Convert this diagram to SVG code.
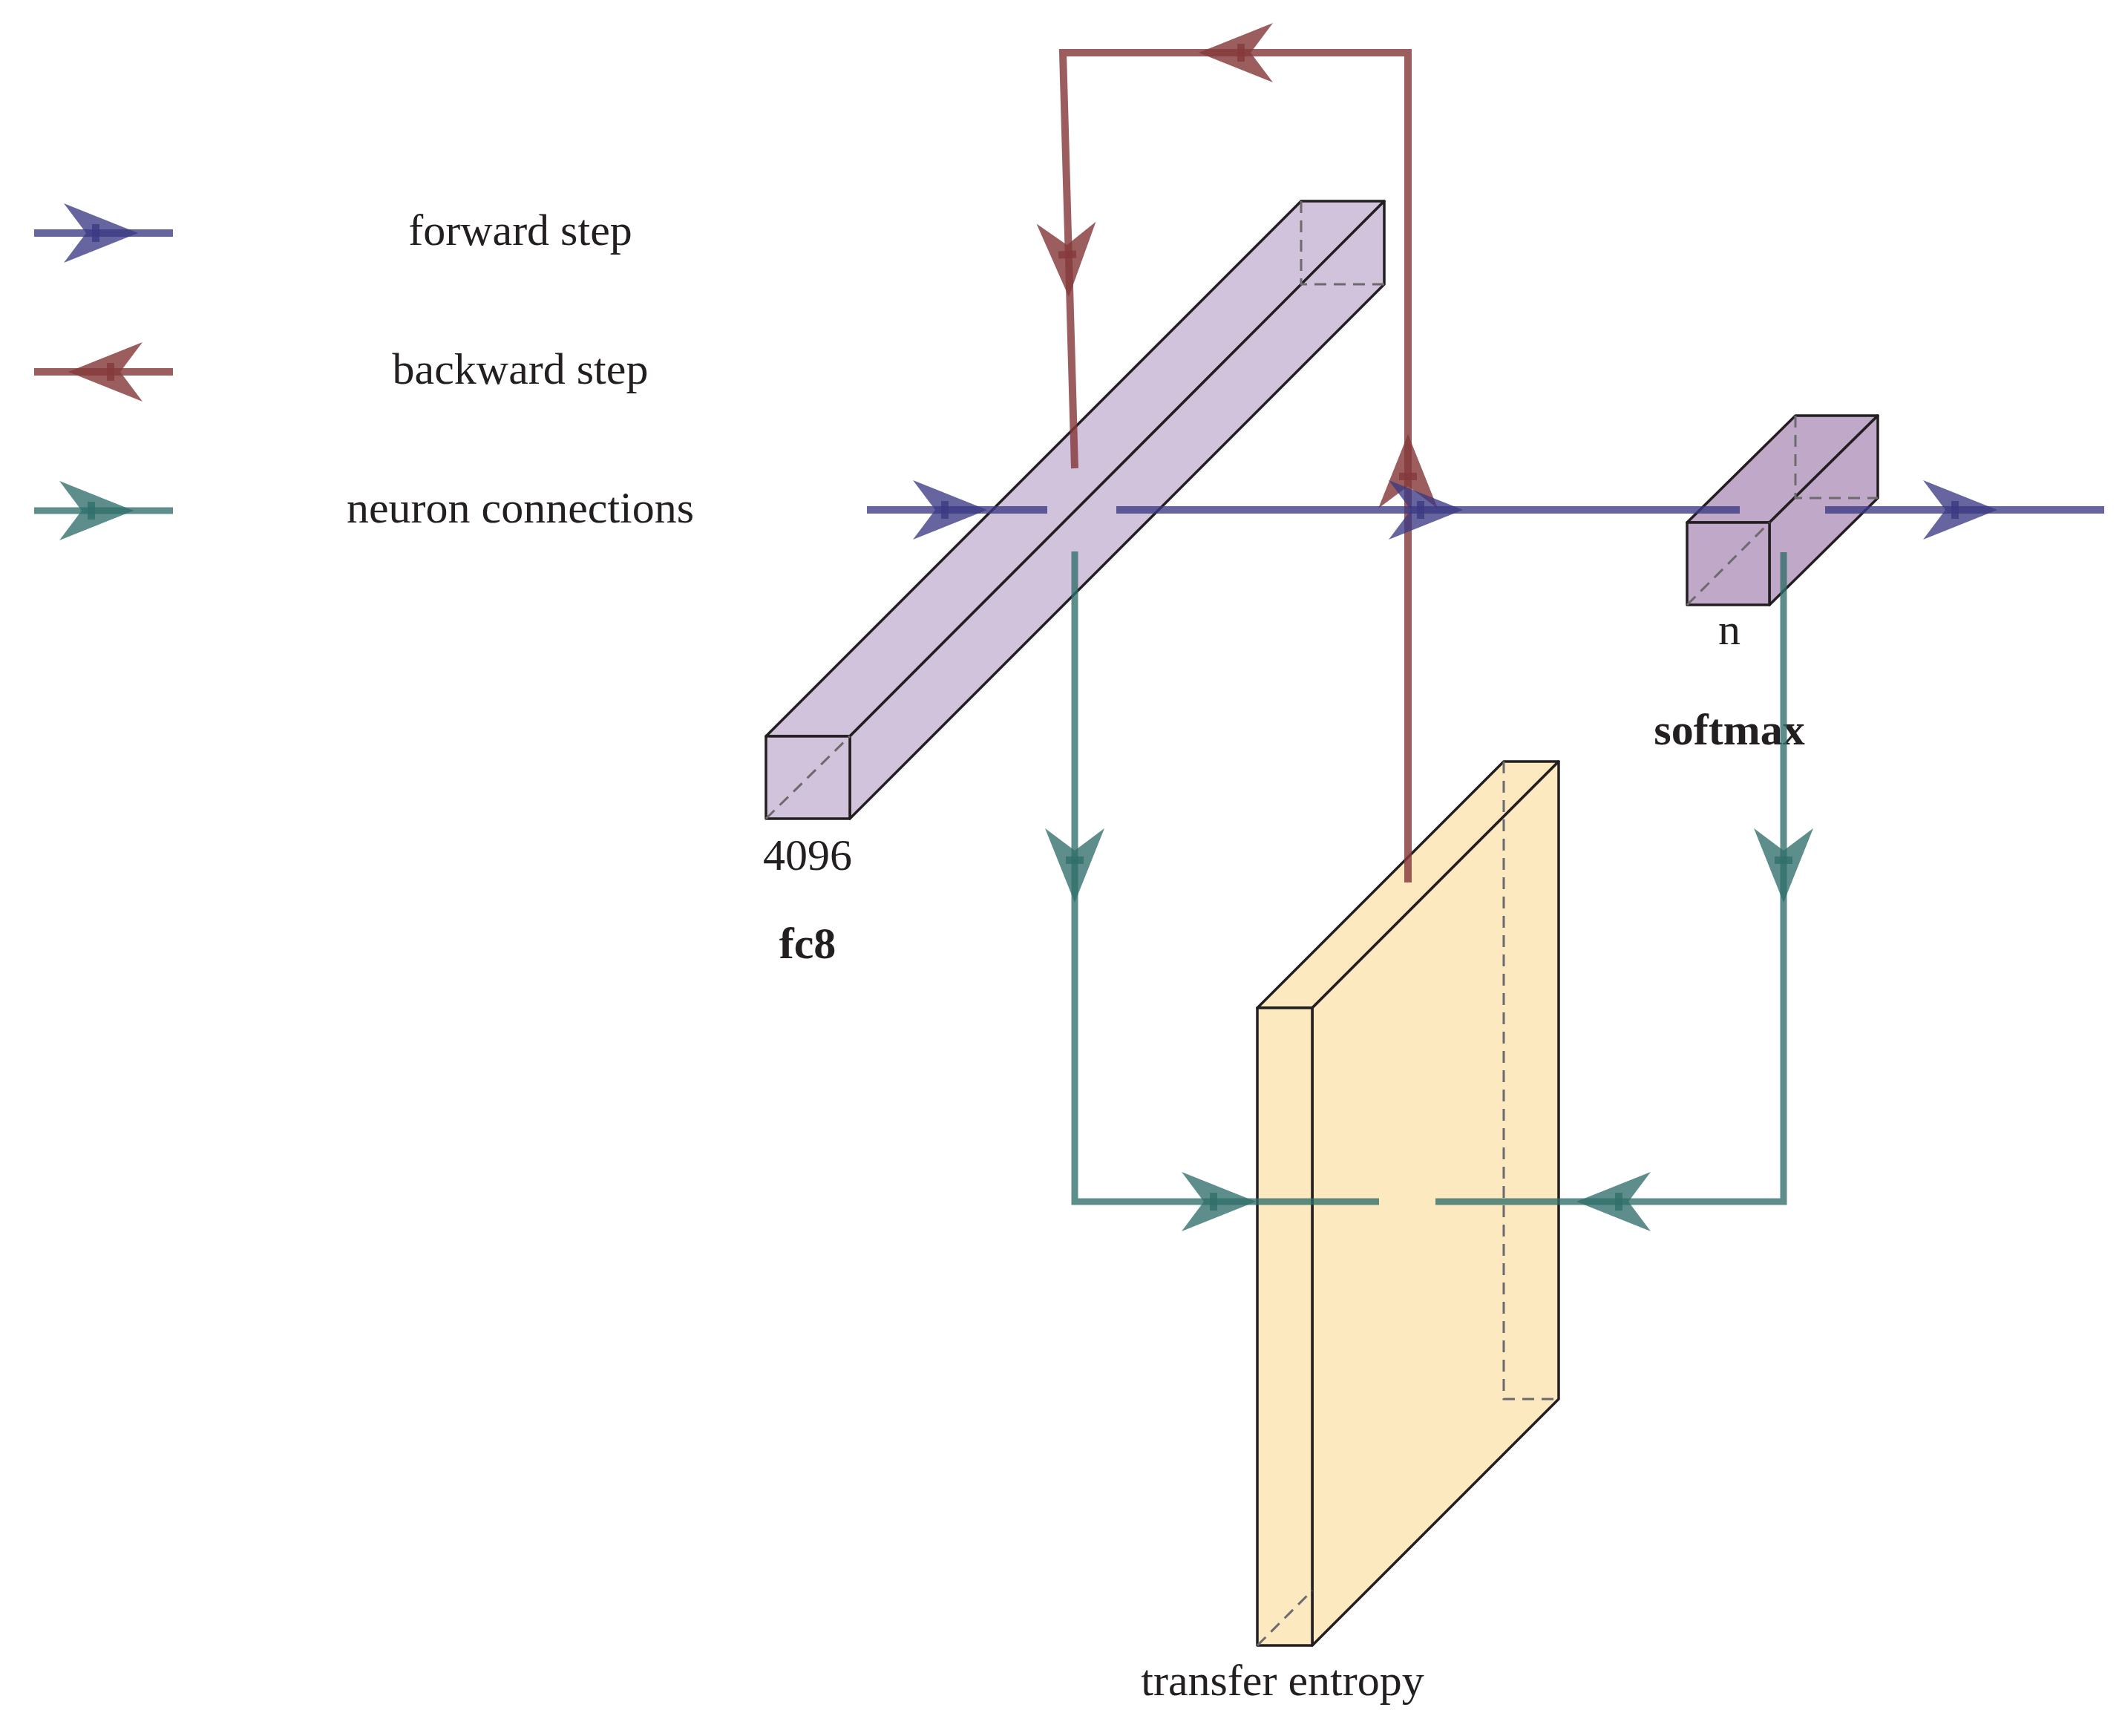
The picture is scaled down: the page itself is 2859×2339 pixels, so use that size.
<svg xmlns="http://www.w3.org/2000/svg" xmlns:xlink="http://www.w3.org/1999/xlink" width="2859" height="2339" viewBox="0 0 2859 2339">
<style>
.t{font-family:"Liberation Serif","Times New Roman",serif;font-size:60px;fill:#231f20;text-anchor:middle}
.b{font-weight:bold}
.edge{stroke:#231f20;stroke-width:3.5;stroke-linejoin:round}
.p1{fill:#d2c3dd}
.p2{fill:#c0a8c8}
.y1{fill:#fde9c0}
.dash{fill:none;stroke:#6d6a6e;stroke-width:3;stroke-dasharray:16 10}
.fw{stroke:#3b3a84;stroke-opacity:.78;fill:none;stroke-width:10}
.bw{stroke:#85393a;stroke-opacity:.82;fill:none;stroke-width:10}
.nc{stroke:#2f6e6a;stroke-opacity:.78;fill:none;stroke-width:9}
.fwh{fill:#3b3a84;fill-opacity:.78}
.bwh{fill:#85393a;fill-opacity:.82}
.nch{fill:#2f6e6a;fill-opacity:.78}
</style>
<defs>
<path id="ah" d="M0,0 L-100,-40 L-70,0 L-100,40 Z"/>
<rect id="tk" x="-62" y="-12" width="10" height="24"/>
</defs>

<g id="fc8">
<polygon points="1032,992 1753,271 1865,271 1145,992" class="edge p1"/>
<polygon points="1145,992 1865,271 1865,383 1145,1103" class="edge p1"/>
<rect x="1032" y="992" width="113" height="111" class="edge p1"/>
<path class="dash" d="M1753,271 V383 H1865 M1032,1103 L1145,992"/>
<text class="t" x="1088" y="1172">4096</text>
<text class="t b" x="1088" y="1291">fc8</text>
</g>

<g id="softmax">
<polygon points="2273,704 2419,560 2530,560 2384,704" class="edge p2"/>
<polygon points="2384,704 2530,560 2530,671 2384,815" class="edge p2"/>
<rect x="2273" y="704" width="111" height="111" class="edge p2"/>
<path class="dash" d="M2419,560 V671 H2530 M2273,815 L2384,704"/>
<text class="t" x="2330" y="868">n</text>
<text class="t b" x="2330" y="1003">softmax</text>
</g>

<g id="transfer-entropy">
<polygon points="1694,1358 2026,1026 2100,1026 1768,1358" class="edge y1"/>
<polygon points="1768,1358 2100,1026 2100,1885 1768,2217" class="edge y1"/>
<rect x="1694" y="1358" width="74" height="859" class="edge y1"/>
<path class="dash" d="M2026,1026 V1885 H2100 M1694,2217 L1768,2143"/>
<text class="t" x="1728" y="2284">transfer entropy</text>
</g>

<g id="legend">
<line class="fw" x1="46" y1="314" x2="233" y2="314"/>
<use xlink:href="#ah" class="fwh" transform="translate(186,314)"/>
<use xlink:href="#tk" class="fwh" transform="translate(186,314)"/>
<text class="t" x="701" y="330">forward step</text>
<line class="bw" x1="46" y1="501" x2="233" y2="501"/>
<use xlink:href="#ah" class="bwh" transform="translate(92,501) rotate(180)"/>
<use xlink:href="#tk" class="bwh" transform="translate(92,501) rotate(180)"/>
<text class="t" x="701" y="517">backward step</text>
<line class="nc" x1="46" y1="688" x2="233" y2="688"/>
<use xlink:href="#ah" class="nch" transform="translate(180,688)"/>
<use xlink:href="#tk" class="nch" transform="translate(180,688)"/>
<text class="t" x="701" y="704">neuron connections</text>
</g>

<g id="connectors">
<path class="bw" d="M1448,631 L1432,71 H1897 V1189"/>
<use xlink:href="#ah" class="bwh" transform="translate(1615,71) rotate(180)"/>
<use xlink:href="#tk" class="bwh" transform="translate(1615,71) rotate(180)"/>
<use xlink:href="#ah" class="bwh" transform="translate(1440,400) rotate(88)"/>
<use xlink:href="#tk" class="bwh" transform="translate(1440,400) rotate(88)"/>
<use xlink:href="#ah" class="bwh" transform="translate(1897,585) rotate(-90)"/>
<use xlink:href="#tk" class="bwh" transform="translate(1897,585) rotate(-90)"/>

<path class="fw" d="M1168,687 H1411 M1504,687 H2344 M2459,687 H2835"/>
<use xlink:href="#ah" class="fwh" transform="translate(1330,687)"/>
<use xlink:href="#tk" class="fwh" transform="translate(1330,687)"/>
<use xlink:href="#ah" class="fwh" transform="translate(1971,687)"/>
<use xlink:href="#tk" class="fwh" transform="translate(1971,687)"/>
<use xlink:href="#ah" class="fwh" transform="translate(2691,687)"/>
<use xlink:href="#tk" class="fwh" transform="translate(2691,687)"/>

<path class="nc" d="M1448,743 V1619 H1858"/>
<use xlink:href="#ah" class="nch" transform="translate(1448,1216) rotate(90)"/>
<use xlink:href="#tk" class="nch" transform="translate(1448,1216) rotate(90)"/>
<use xlink:href="#ah" class="nch" transform="translate(1692,1619)"/>
<use xlink:href="#tk" class="nch" transform="translate(1692,1619)"/>
<path class="nc" d="M2403,744 V1619 H1934"/>
<use xlink:href="#ah" class="nch" transform="translate(2403,1216) rotate(90)"/>
<use xlink:href="#tk" class="nch" transform="translate(2403,1216) rotate(90)"/>
<use xlink:href="#ah" class="nch" transform="translate(2124,1619) rotate(180)"/>
<use xlink:href="#tk" class="nch" transform="translate(2124,1619) rotate(180)"/>
</g>
</svg>
